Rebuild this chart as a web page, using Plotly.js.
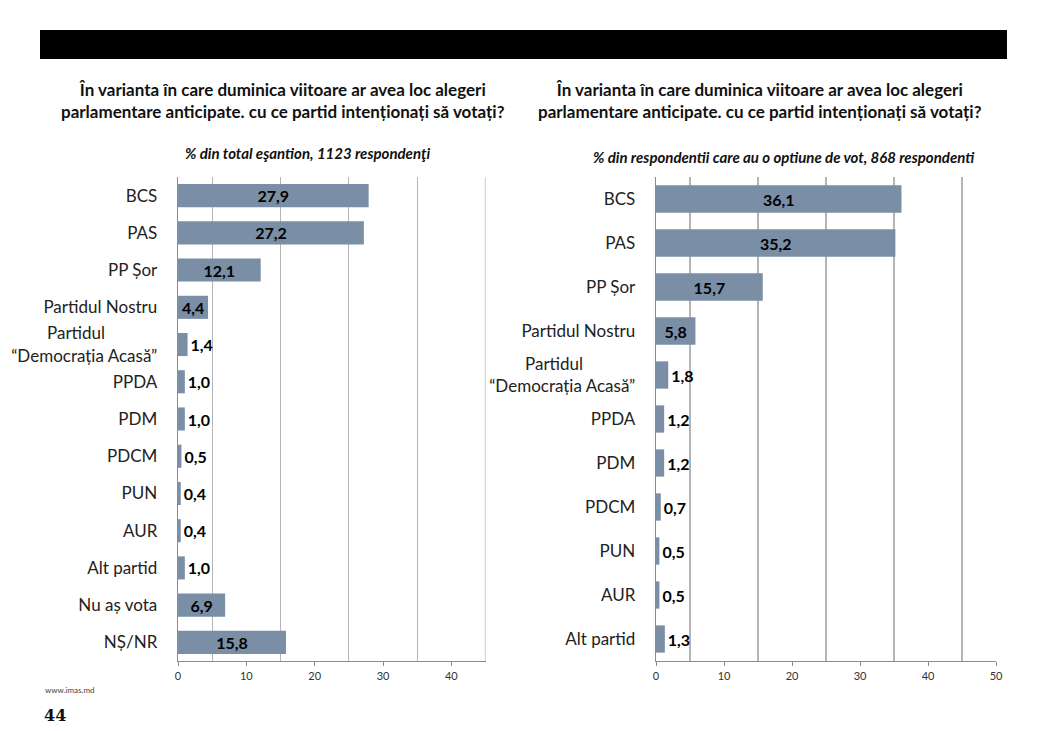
<!DOCTYPE html>
<html>
<head>
<meta charset="utf-8">
<script src="https://cdn.plot.ly/plotly-3.0.1.min.js"></script>
<style>
  html, body { margin: 0; padding: 0; background: #fff; }
  #chart { width: 1046px; height: 731px; }
</style>
</head>
<body>
<div id="chart"></div>
<script>
// date: sondaj IMAS, intenții de vot
const NB = '\u00A0'.repeat(12); // centreaza "Partidul" deasupra randului doi
const partideTotal = ["BCS", "PAS", "PP Șor", "Partidul Nostru",
  "Partidul" + NB + "<br>“Democrația Acasă”", "PPDA", "PDM", "PDCM", "PUN", "AUR",
  "Alt partid", "Nu aș vota", "NȘ/NR"];
const valoriTotal = [27.9, 27.2, 12.1, 4.4, 1.4, 1.0, 1.0, 0.5, 0.4, 0.4, 1.0, 6.9, 15.8];

const partideOptiune = ["BCS", "PAS", "PP Șor", "Partidul Nostru",
  "Partidul" + NB + "<br>“Democrația Acasă”", "PPDA", "PDM", "PDCM", "PUN", "AUR", "Alt partid"];
const valoriOptiune = [36.1, 35.2, 15.7, 5.8, 1.8, 1.2, 1.2, 0.7, 0.5, 0.5, 1.3];

const xTicks = [0, 10, 20, 30, 40, 50];

const W = 1046, H = 731;
const px = x => x / W;
const py = y => 1 - y / H;

const FONT = 'Lato, "Open Sans", sans-serif';
const barColor = '#7a8ea6';
const gridColor = '#b5b5b5';

// textul mic iese in afara barei
function pozitii(vals) {
  return vals.map(v => v >= 4 ? 'inside' : 'outside');
}

function bara(cats, vals, xa, ya) {
  return {
    type: 'bar',
    orientation: 'h',
    y: cats,
    x: vals,
    xaxis: xa,
    yaxis: ya,
    marker: { color: barColor },
    texttemplate: '<b>%{x:.1f}</b>',
    textposition: pozitii(vals),
    insidetextanchor: 'middle',
    constraintext: 'none',
    cliponaxis: false,
    textfont: { family: FONT, size: 16, color: '#000' },
    hoverinfo: 'skip'
  };
}

const data = [
  bara(partideTotal, valoriTotal, 'x', 'y'),
  bara(partideOptiune, valoriOptiune, 'x2', 'y2')
];

function axaX(domain, range, anchor) {
  return {
    domain: domain,
    range: range,
    anchor: anchor,
    tickvals: xTicks,
    showgrid: false,
    zeroline: false,
    showline: true,
    linecolor: '#8c8c8c',
    linewidth: 1.3,
    ticks: 'outside',
    ticklen: 4,
    tickcolor: '#8c8c8c',
    tickfont: { family: FONT, size: 11, color: '#333' },
    minor: { tick0: 5, dtick: 10, showgrid: true, gridcolor: gridColor, gridwidth: 1.3, ticks: '' },
    fixedrange: true
  };
}

function axaY(anchor) {
  return {
    domain: [py(661), py(177)],
    anchor: anchor,
    autorange: 'reversed',
    showline: true,
    linecolor: '#8c8c8c',
    linewidth: 1.3,
    ticks: '',
    showgrid: false,
    ticklabelstandoff: 16,
    tickfont: { family: FONT, size: 17, color: '#222' },
    fixedrange: true
  };
}

const titlu = 'În varianta în care duminica viitoare ar avea loc alegeri<br>parlamentare anticipate. cu ce partid intenționați să votați?';

function nota(text, x, y, size, opts) {
  return Object.assign({
    text: text, x: px(x), y: py(y), xref: 'paper', yref: 'paper',
    xanchor: 'center', yanchor: 'middle', showarrow: false,
    font: { family: FONT, size: size, color: '#111' }
  }, opts || {});
}

const layout = {
  width: W,
  height: H,
  margin: { l: 0, r: 0, t: 0, b: 0 },
  paper_bgcolor: '#fff',
  plot_bgcolor: 'rgba(0,0,0,0)',
  showlegend: false,
  separators: ',.',
  bargap: 0.38,
  xaxis: axaX([px(178), px(485.5)], [0, 45], 'y'),
  yaxis: axaY('x'),
  xaxis2: axaX([px(656), px(996)], [0, 50], 'y2'),
  yaxis2: axaY('x2'),
  shapes: [
    { type: 'rect', xref: 'paper', yref: 'paper', x0: px(40), x1: px(1007), y0: py(59), y1: py(30),
      fillcolor: '#000', line: { width: 0 } },
    // linia de grila de la capatul axei din stanga (45)
    { type: 'line', xref: 'x', yref: 'y domain', x0: 45, x1: 45, y0: 0, y1: 1,
      line: { color: gridColor, width: 1.3 }, layer: 'below' }
  ],
  annotations: [
    nota('<b>' + titlu + '</b>', 283, 101, 17),
    nota('<b>' + titlu + '</b>', 760, 101, 17),
    nota('<b><i>% din total eşantion, 1123 respondenţi</i></b>', 307, 153, 15),
    nota('<b><i>% din respondentii care au o optiune de vot, 868 respondenti</i></b>', 784, 157, 15),
    nota('www.imas.md', 43, 690, 8, { xanchor: 'left', font: { family: FONT, size: 8, color: '#444' } }),
    nota('<b>44</b>', 42, 715, 17, { xanchor: 'left', font: { family: '"DejaVu Serif", "Liberation Serif", serif', size: 16, color: '#111' } })
  ]
};

Plotly.newPlot('chart', data, layout, { displayModeBar: false, staticPlot: true });
</script>
</body>
</html>
